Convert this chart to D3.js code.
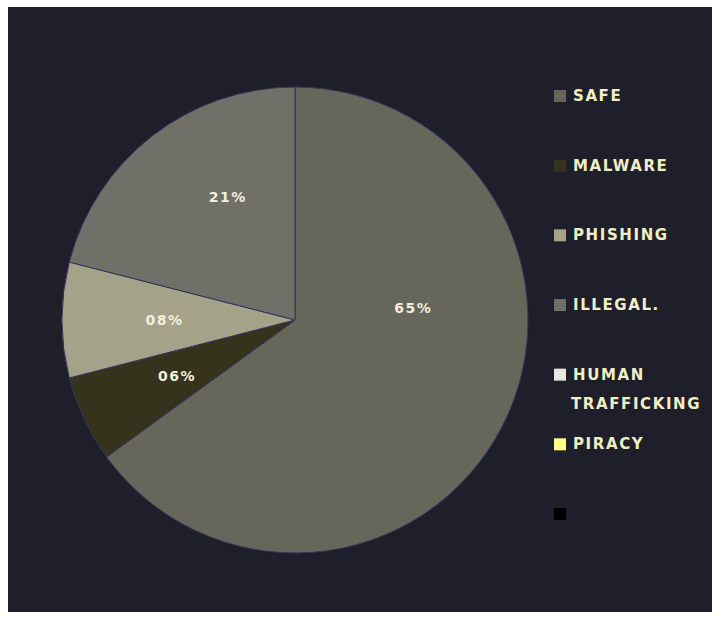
<!DOCTYPE html>
<html>
<head>
<meta charset="utf-8">
<script src="https://cdn.jsdelivr.net/npm/d3@7"></script>
<style>
  html, body { margin: 0; padding: 0; background: #ffffff; }
  svg { display: block; }
</style>
</head>
<body>
<svg id="chart" width="719" height="619"></svg>
<script>
// Share of sites by category
const categories = ["SAFE", "MALWARE", "PHISHING", "ILLEGAL.", "HUMAN TRAFFICKING", "PIRACY", ""];
const shares = [65, 6, 8, 21, 0, 0, 0];
const sliceLabels = ["65%", "06%", "08%", "21%", "", "", ""];
const colors = ["#67665a", "#36331d", "#a4a389", "#706f68", "#e8e8e0", "#ffff88", "#000000"];

const svg = d3.select("#chart");

// dark panel
svg.append("rect")
  .attr("x", 8).attr("y", 7)
  .attr("width", 704).attr("height", 605)
  .attr("fill", "#1f1f2b");

const cx = 295, cy = 320, R = 233;

const data = categories.map((c, i) => ({ name: c, value: shares[i], label: sliceLabels[i], color: colors[i] }));

const pie = d3.pie().value(d => d.value).sort(null);
const arcs = pie(data);
const arc = d3.arc().innerRadius(0).outerRadius(R);

const g = svg.append("g").attr("transform", `translate(${cx},${cy})`);

g.selectAll("path.slice")
  .data(arcs.filter(a => a.data.value > 0))
  .join("path")
  .attr("class", "slice")
  .attr("d", arc)
  .attr("fill", d => d.data.color)
  .attr("stroke", "#34345e")
  .attr("stroke-width", 1);

// percentage labels inside the slices
function labelPos(a) {
  const span = a.endAngle - a.startAngle;
  let ang, r;
  if (span > Math.PI) {
    ang = a.startAngle + span * 0.36;
    r = R * 0.51;
  } else if (span > 1) {
    ang = a.startAngle + span * 0.62;
    r = R * 0.6;
  } else {
    ang = (a.startAngle + a.endAngle) / 2;
    r = R * 0.56;
  }
  return [Math.sin(ang) * r, -Math.cos(ang) * r];
}

g.selectAll("text.pct")
  .data(arcs.filter(a => a.data.value > 0))
  .join("text")
  .attr("class", "pct")
  .attr("transform", d => `translate(${labelPos(d)})`)
  .attr("text-anchor", "middle")
  .attr("dominant-baseline", "central")
  .attr("font-family", "DejaVu Sans, sans-serif")
  .attr("font-weight", "bold")
  .attr("font-size", 14)
  .attr("letter-spacing", 1.5)
  .attr("fill", "#f2f0dc")
  .text(d => d.data.label);

// legend
const legendY = d3.scalePoint()
  .domain(d3.range(categories.length))
  .range([96, 514]);

const lg = svg.append("g");
const items = lg.selectAll("g.item")
  .data(data)
  .join("g")
  .attr("class", "item")
  .attr("transform", (d, i) => `translate(554,${legendY(i)})`);

items.append("rect")
  .attr("x", 0).attr("y", -6)
  .attr("width", 12).attr("height", 12)
  .attr("fill", d => d.color);

items.append("text")
  .attr("x", 19)
  .attr("y", 0)
  .attr("dominant-baseline", "central")
  .attr("font-family", "DejaVu Sans, sans-serif")
  .attr("font-weight", "bold")
  .attr("font-size", 15)
  .attr("letter-spacing", 1.6)
  .attr("fill", "#f0eec4")
  .each(function(d) {
    const words = d.name.split(" ");
    const t = d3.select(this);
    if (words.length > 1) {
      t.append("tspan").attr("x", 19).attr("dy", 0).text(words[0]);
      t.append("tspan").attr("x", 17).attr("dy", 29).text(words.slice(1).join(" "));
    } else {
      t.text(d.name);
    }
  });
</script>
</body>
</html>
